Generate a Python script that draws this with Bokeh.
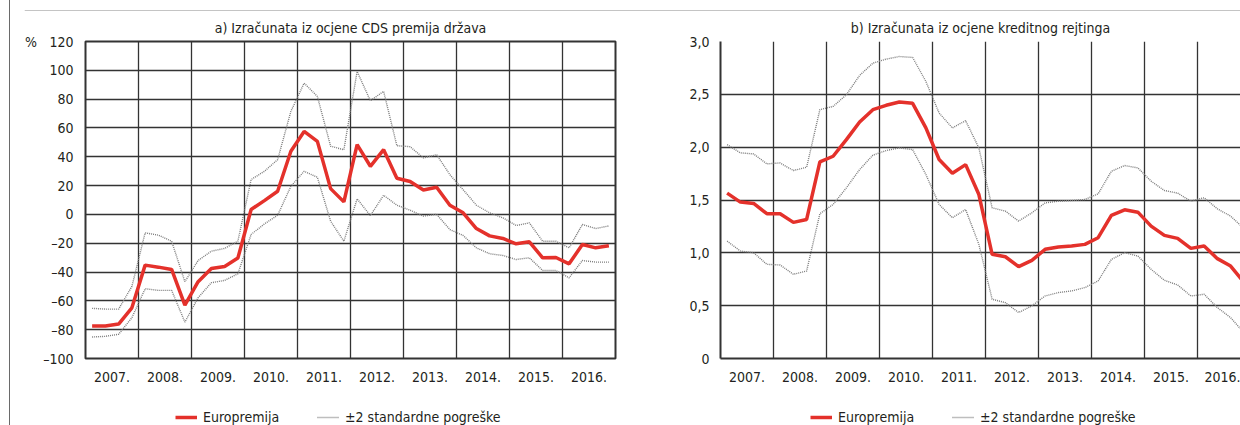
from bokeh.plotting import figure
from bokeh.models import Range1d, FixedTicker, Legend, LegendItem, Span, Div
from bokeh.layouts import row, column
from bokeh.embed import file_html
from bokeh.resources import INLINE

# ---------------- data ----------------
years = [2007, 2008, 2009, 2010, 2011, 2012, 2013, 2014, 2015, 2016]
year_labels = ["2007.", "2008.", "2009.", "2010.", "2011.", "2012.", "2013.", "2014.", "2015.", "2016."]
quarters = [1, 2, 3, 4]

cds_euro = [-77.5, -77.5, -76.1, -64.8, -35.2, -36.6, -38.2, -62.9, -46.7, -37.5,
            -36.1, -30.3, 3.4, 9.6, 16.1, 43.8, 57.6, 50.7, 17.9, 8.7,
            48.4, 33.4, 44.9, 25.1, 22.8, 17.0, 18.8, 6.4, 1.1, -9.8,
            -14.9, -16.7, -20.4, -19.0, -30.1, -29.9, -34.3, -20.9, -23.2, -21.8]
cds_upper = [-65.2, -65.7, -65.7, -50.0, -12.8, -14.4, -18.6, -46.7, -32.0, -25.5,
             -23.6, -18.6, 24.2, 29.9, 38.0, 71.5, 91.1, 81.9, 47.3, 44.9,
             99.2, 78.9, 85.4, 47.7, 47.0, 39.2, 41.5, 27.6, 17.2, 6.4,
             1.1, -2.4, -7.7, -5.9, -18.6, -18.6, -23.2, -7.0, -9.8, -8.0]
cds_lower = [-85.1, -84.6, -83.2, -71.7, -51.6, -52.7, -52.7, -74.7, -57.8, -47.4,
             -45.8, -41.2, -13.9, -6.6, -0.6, 19.5, 29.9, 25.8, -4.7, -18.6,
             10.8, -0.8, 13.3, 6.4, 2.9, -1.2, 0.1, -10.5, -14.6, -23.2,
             -27.3, -28.5, -31.3, -30.1, -38.9, -38.9, -44.0, -32.0, -33.1, -33.1]

rat_euro = [1.565, 1.480, 1.467, 1.370, 1.370, 1.288, 1.316, 1.861, 1.914, 2.071,
            2.238, 2.355, 2.396, 2.427, 2.415, 2.182, 1.883, 1.754, 1.835, 1.552,
            0.986, 0.963, 0.869, 0.929, 1.033, 1.055, 1.064, 1.080, 1.143, 1.354,
            1.407, 1.385, 1.253, 1.165, 1.137, 1.042, 1.064, 0.945, 0.875, 0.721]
rat_upper = [2.024, 1.946, 1.936, 1.842, 1.851, 1.779, 1.810, 2.355, 2.386, 2.496,
             2.679, 2.795, 2.833, 2.858, 2.849, 2.622, 2.323, 2.182, 2.251, 1.993,
             1.426, 1.395, 1.300, 1.379, 1.473, 1.489, 1.495, 1.505, 1.558, 1.772,
             1.826, 1.804, 1.678, 1.590, 1.565, 1.489, 1.521, 1.417, 1.347, 1.231]
rat_lower = [1.111, 1.017, 1.001, 0.891, 0.885, 0.797, 0.828, 1.370, 1.458, 1.615,
             1.788, 1.924, 1.968, 1.993, 1.977, 1.741, 1.458, 1.332, 1.410, 1.080,
             0.561, 0.529, 0.435, 0.498, 0.592, 0.624, 0.639, 0.671, 0.734, 0.938,
             1.001, 0.970, 0.844, 0.740, 0.696, 0.592, 0.608, 0.482, 0.387, 0.246]

cds_ticks = [-100, -80, -60, -40, -20, 0, 20, 40, 60, 80, 100, 120]
cds_tick_labels = ["\u2013100", "\u201380", "\u201360", "\u201340", "\u201320", "0",
                   "20", "40", "60", "80", "100", "%\u2003120"]
rat_ticks = [0, 0.5, 1.0, 1.5, 2.0, 2.5, 3.0]
rat_tick_labels = ["0", "0,5", "1,0", "1,5", "2,0", "2,5", "3,0"]

title_a = "a) Izra\u010dunata iz ocjene CDS premija dr\u017eava"
title_b = "b) Izra\u010dunata iz ocjene kreditnog rejtinga"
legend_main = "Europremija"
legend_band = "\u00b12 standardne pogre\u0161ke"

# quarter positions (middle of each quarter)
xq = [y + (q - 0.5) / 4 for y in years for q in quarters]

# ---------------- style ----------------
FONT = "DejaVu Sans Condensed, Roboto"
TXT = "#231f20"
RED = "#e4312b"
DOT = "#7d7d7d"
GRID = "#333333"
FS = "14px"
RED_W = 3.5
DOT_W = 1.4

H = 389
FRAME_H = 318
TOP = 29


def make_panel(title, ticks, tick_labels, mid, up, lo, width, left, right, x_end, frame=True):
    p = figure(width=width, height=H, output_backend="svg", toolbar_location=None,
               x_range=Range1d(years[0], x_end), y_range=Range1d(ticks[0], ticks[-1]),
               min_border_left=left, min_border_right=right,
               min_border_top=TOP, min_border_bottom=H - TOP - FRAME_H,
               background_fill_color="white", border_fill_color="white")
    p.title.text = title
    p.title.align = "center"
    p.title.text_font = FONT
    p.title.text_font_size = FS
    p.title.text_font_style = "normal"
    p.title.text_color = TXT
    p.title.standoff = 12

    if frame:
        p.outline_line_color = GRID
        p.outline_line_width = 2
    else:
        p.outline_line_color = None

    p.xgrid.ticker = FixedTicker(ticks=years + [years[-1] + 1])
    p.xgrid.grid_line_color = GRID
    p.xgrid.grid_line_width = 1.3
    p.ygrid.ticker = FixedTicker(ticks=ticks)
    p.ygrid.grid_line_color = GRID
    p.ygrid.grid_line_width = 1.6

    xa = p.xaxis[0]
    xa.ticker = FixedTicker(ticks=[y + 0.5 for y in years])
    xa.major_label_overrides = {y + 0.5: lab for y, lab in zip(years, year_labels)}
    xa.minor_tick_line_color = None
    xa.major_tick_line_color = None
    xa.major_tick_out = 0
    xa.major_tick_in = 0
    xa.major_label_standoff = 13
    xa.major_label_text_font = FONT
    xa.major_label_text_font_size = FS
    xa.major_label_text_color = TXT
    ya = p.yaxis[0]
    ya.ticker = FixedTicker(ticks=ticks)
    ya.major_label_overrides = {t: lab for t, lab in zip(ticks, tick_labels)}
    ya.minor_tick_line_color = None
    ya.major_tick_line_color = None
    ya.major_tick_out = 0
    ya.major_tick_in = 0
    ya.major_label_standoff = 12 if frame else 11
    ya.major_label_text_font = FONT
    ya.major_label_text_font_size = FS
    ya.major_label_text_color = TXT
    if frame:
        xa.axis_line_color = None
        ya.axis_line_color = None
    else:
        xa.axis_line_color = GRID
        xa.axis_line_width = 2
        ya.axis_line_color = GRID
        ya.axis_line_width = 2

    p.line(xq, up, line_color=DOT, line_width=DOT_W, line_dash="1 1")
    p.line(xq, lo, line_color=DOT, line_width=DOT_W, line_dash="1 1")
    p.line(xq, mid, line_color=RED, line_width=RED_W)
    return p


p1 = make_panel(title_a, cds_ticks, cds_tick_labels, cds_euro, cds_upper, cds_lower,
                width=650, left=75, right=45, x_end=years[-1] + 1, frame=True)
p2 = make_panel(title_b, rat_ticks, rat_tick_labels, rat_euro, rat_upper, rat_lower,
                width=580, left=60, right=0, x_end=years[0] + 520 / 53, frame=False)


def blank(width, height, **kw):
    f = figure(width=width, height=height, output_backend="svg", toolbar_location=None,
               title_location=None, x_range=Range1d(0, 1), y_range=Range1d(0, 1),
               x_axis_type=None, y_axis_type=None, outline_line_color=None,
               background_fill_color="white", border_fill_color="white", **kw)
    return f


# legend strip below both panels (legend keys only; their lines lie outside the view)
leg = blank(1230, 25, min_border_left=14, min_border_right=0, min_border_top=0,
            min_border_bottom=0)
r_red = leg.line(x=[-1, -2], y=[-1, -2], line_color=RED, line_width=RED_W)
r_dot = leg.line(x=[-1, -2], y=[-1, -2], line_color=DOT, line_width=DOT_W, line_dash="1 1")
for xpos, lab, rend in [(151, legend_main, r_red), (293, legend_band, r_dot),
                        (786, legend_main, r_red), (928, legend_band, r_dot)]:
    lg = Legend(items=[LegendItem(label=lab, renderers=[rend])], location=(xpos, 0))
    lg.border_line_color = None
    lg.background_fill_alpha = 0
    lg.padding = 0
    lg.margin = 0
    lg.spacing = 0
    lg.glyph_width = 22
    lg.glyph_height = 14
    lg.label_height = 14
    lg.label_standoff = 6
    lg.label_text_font = FONT
    lg.label_text_font_size = FS
    lg.label_text_color = TXT
    lg.label_text_baseline = "middle"
    leg.add_layout(lg)

# grey rule above the panels
rule = blank(1230, 11, min_border_left=14, min_border_right=0, min_border_top=0,
             min_border_bottom=0)
rule.line(x=[-1, -2], y=[-1, -2], line_alpha=0)
rule.add_layout(Span(location=1, location_units="screen", dimension="width",
                     line_color="#8a8a8a", line_width=2))

# thin vertical rule at the left edge (kept above the neighbouring canvases)
gutter = Div(text='<div style="position:fixed;left:9px;top:0px;width:1px;'
                  'height:425px;background-color:#6a6a6a;z-index:1000;"></div>',
             width=10, height=425, margin=0)

layout = row(gutter, column(rule, row(p1, p2), leg))

open("out.html", "w").write(file_html(layout, INLINE))
